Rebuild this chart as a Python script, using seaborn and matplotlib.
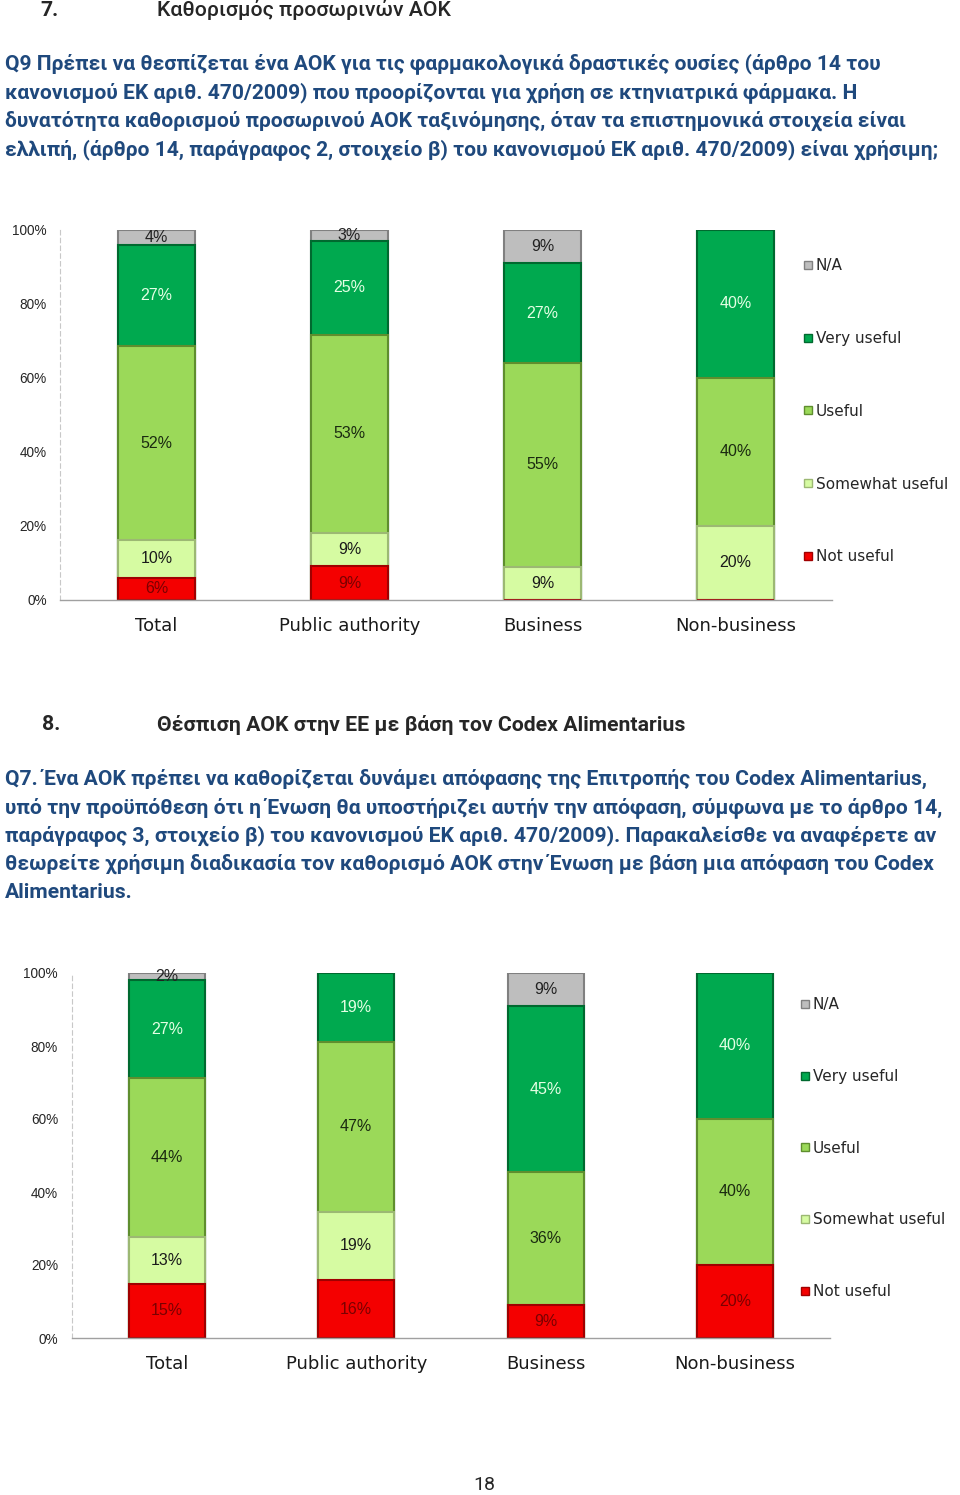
import numpy as np
import pandas as pd
import matplotlib
matplotlib.use("Agg")
import matplotlib.pyplot as plt
from matplotlib.lines import Line2D
import seaborn as sns

groups = ["Total", "Public authority", "Business", "Non-business"]
answers = ["Not useful", "Somewhat useful", "Useful", "Very useful", "N/A"]

# Q9 - temporary MRL classification (top chart)
q9_not_useful = [6, 9, 0, 0]
q9_somewhat = [10, 9, 9, 20]
q9_useful = [52, 53, 55, 40]
q9_very = [27, 25, 27, 40]
q9_na = [4, 3, 9, 0]

# Q7 - MRL based on Codex Alimentarius (bottom chart)
q7_not_useful = [15, 16, 9, 20]
q7_somewhat = [13, 19, 0, 0]
q7_useful = [44, 47, 36, 40]
q7_very = [27, 19, 45, 40]
q7_na = [2, 0, 9, 0]

face = {"Not useful": "#F40000", "Somewhat useful": "#D6FBA2", "Useful": "#9BD959",
        "Very useful": "#00A94F", "N/A": "#BEBEBE"}
edge = {"Not useful": "#A00000", "Somewhat useful": "#9CB873", "Useful": "#5F8E2E",
        "Very useful": "#00692F", "N/A": "#808080"}
lab_col = {"Not useful": "#7A0000", "Somewhat useful": "#1A1A1A", "Useful": "#1A2A10",
           "Very useful": "#E4FFE4", "N/A": "#222222"}

sns.set_style("white")
plt.rcParams["font.family"] = ["DejaVu Sans"]

W, H = 960, 1495
fig = plt.figure(figsize=(W / 100, H / 100), dpi=100)
renderer = fig.canvas.get_renderer()

def fx(px):
    return px / W

def fy(py):
    return 1 - py / H

body_font = ["Roboto", "DejaVu Sans"]
blue = "#1F497D"


def fit_size(s, width_px, **kw):
    # font size that makes the string s about width_px wide
    t = fig.text(0, 0, s, fontsize=10, **kw)
    w = t.get_window_extent(renderer).width
    t.remove()
    return 10 * width_px / w


def paragraph(lines, top, step, width_px):
    size = fit_size(lines[0], width_px, family=body_font, weight="bold")
    for k, line in enumerate(lines):
        fig.text(fx(5), fy(top + step * k), line, fontsize=size, family=body_font,
                 weight="bold", color=blue, va="center")


def draw_stack(ax, df, leg_x, leg_y, leg_space, tick_pad):
    shares = df.div(df.sum(axis=1), axis=0) * 100
    cum = shares.cumsum(axis=1)
    # stacked bars: draw cumulative totals from the top layer down
    for ans in reversed(answers):
        sns.barplot(x=groups, y=cum[ans].values, order=groups, color=face[ans],
                    edgecolor=edge[ans], linewidth=1.5, width=0.4, saturation=1, ax=ax)
    for i, g in enumerate(groups):
        for ans in answers:
            v = df.loc[g, ans]
            if v == 0:
                continue
            mid = cum.loc[g, ans] - shares.loc[g, ans] / 2
            ax.text(i, mid, f"{v}%", ha="center", va="center", fontsize=11.5,
                    family="Liberation Sans", color=lab_col[ans])
    ax.set_xlim(-0.5, 3.5)
    ax.set_ylim(0, 100)
    ax.set_yticks(range(0, 101, 20))
    ax.set_yticklabels([f"{t}%" for t in range(0, 101, 20)], family="Liberation Sans", fontsize=9.8)
    ax.tick_params(axis="y", length=0, pad=tick_pad)
    ax.set_xticks(range(len(groups)))
    ax.set_xticklabels(groups, fontsize=13, color="#1A1A1A")
    ax.tick_params(axis="x", which="major", length=0, pad=12)
    ax.set_xticks(np.arange(-0.5, 4, 1), minor=True)
    ax.tick_params(axis="x", which="minor", length=5, color="#A0A0A0", direction="out")
    ax.set_xlabel("")
    ax.set_ylabel("")
    for s in ["top", "right"]:
        ax.spines[s].set_visible(False)
    ax.spines["left"].set_linestyle((0, (4, 3)))
    ax.spines["left"].set_color("#C8C8C8")
    ax.spines["left"].set_linewidth(0.8)
    ax.spines["bottom"].set_color("#A0A0A0")
    ax.spines["bottom"].set_linewidth(1)
    handles = [Line2D([], [], marker="s", linestyle="none", markersize=6,
                      markerfacecolor=face[a], markeredgecolor=edge[a]) for a in reversed(answers)]
    ax.legend(handles, list(reversed(answers)), loc="center left", bbox_to_anchor=(leg_x, leg_y),
              frameon=False, fontsize=11, handlelength=0.7, handletextpad=0.15,
              labelspacing=leg_space, borderpad=0, borderaxespad=0)


def table(nu, sw, us, vu, na):
    return pd.DataFrame({"Not useful": nu, "Somewhat useful": sw, "Useful": us,
                         "Very useful": vu, "N/A": na}, index=groups)[answers]


# headings and question texts
h7 = "Καθορισμός προσωρινών ΑΟΚ"
h8 = "Θέσπιση ΑΟΚ στην ΕΕ με βάση τον Codex Alimentarius"
s7 = fit_size(h7, 295, family=body_font, weight="medium")
s8 = fit_size(h8, 529, family=body_font, weight="bold")
fig.text(fx(40), fy(10), "7.", fontsize=s8, family=body_font, weight="bold", va="center")
fig.text(fx(157), fy(10), h7, fontsize=s7, family=body_font, weight="medium", va="center")

q9_lines = [
    "Q9 Πρέπει να θεσπίζεται ένα ΑΟΚ για τις φαρμακολογικά δραστικές ουσίες (άρθρο 14 του",
    "κανονισμού ΕΚ αριθ. 470/2009) που προορίζονται για χρήση σε κτηνιατρικά φάρμακα. Η",
    "δυνατότητα καθορισμού προσωρινού ΑΟΚ ταξινόμησης, όταν τα επιστημονικά στοιχεία είναι",
    "ελλιπή, (άρθρο 14, παράγραφος 2, στοιχείο β) του κανονισμού ΕΚ αριθ. 470/2009) είναι χρήσιμη;",
]
paragraph(q9_lines, 64, 28.5, 879)

fig.text(fx(42), fy(725), "8.", fontsize=s8, family=body_font, weight="bold", va="center")
fig.text(fx(157), fy(725), h8, fontsize=s8, family=body_font, weight="bold", va="center")
q7_lines = [
    "Q7. Ένα ΑΟΚ πρέπει να καθορίζεται δυνάμει απόφασης της Επιτροπής του Codex Alimentarius,",
    "υπό την προϋπόθεση ότι η Ένωση θα υποστήριζει αυτήν την απόφαση, σύμφωνα με το άρθρο 14,",
    "παράγραφος 3, στοιχείο β) του κανονισμού ΕΚ αριθ. 470/2009). Παρακαλείσθε να αναφέρετε αν",
    "θεωρείτε χρήσιμη διαδικασία τον καθορισμό ΑΟΚ στην Ένωση με βάση μια απόφαση του Codex",
    "Alimentarius.",
]
paragraph(q7_lines, 779, 28.3, 926)

ax1 = fig.add_axes([fx(60), fy(600), (832 - 60) / W, 370 / H])
draw_stack(ax1, table(q9_not_useful, q9_somewhat, q9_useful, q9_very, q9_na), 0.962, 0.51, 3.78, 9.4)

ax2 = fig.add_axes([fx(72), fy(1338), (830 - 72) / W, 365 / H])
draw_stack(ax2, table(q7_not_useful, q7_somewhat, q7_useful, q7_very, q7_na), 0.960, 0.52, 3.71, 10)

fig.text(fx(484), fy(1485), "18", fontsize=14, family=body_font, ha="center", va="center")

fig.savefig("out.png", dpi=100)
